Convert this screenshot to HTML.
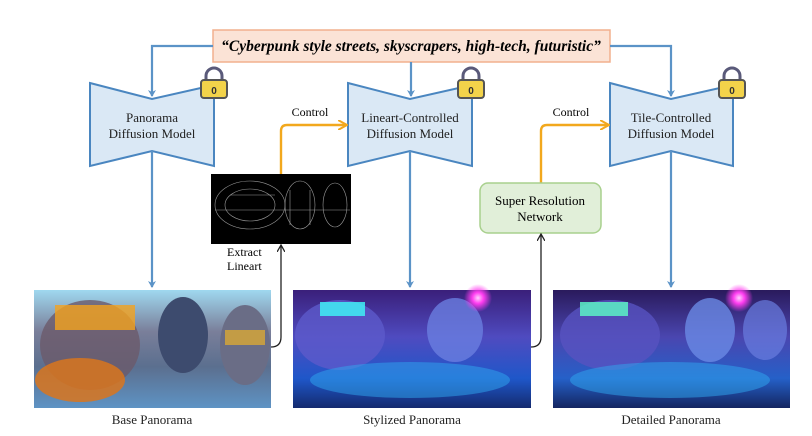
<!DOCTYPE html>
<html><head><meta charset="utf-8"><style>
body{margin:0;background:#fff;}
svg{display:block;font-family:"Liberation Serif",serif;}
</style></head><body>
<svg width="812" height="436" viewBox="0 0 812 436" xmlns="http://www.w3.org/2000/svg">
<defs>
<marker id="ab" markerWidth="8" markerHeight="8" refX="6" refY="4" orient="auto" markerUnits="userSpaceOnUse"><path d="M0,0 L7,4 L0,8 L2,4z" fill="#5b93c7"/></marker>
<marker id="ao" markerWidth="10" markerHeight="10" refX="8" refY="5" orient="auto" markerUnits="userSpaceOnUse"><path d="M0,0 L9,5 L0,10" fill="none" stroke="#f2a81d" stroke-width="2"/></marker>
<marker id="ak" markerWidth="8" markerHeight="8" refX="6" refY="4" orient="auto" markerUnits="userSpaceOnUse"><path d="M0,0 L7,4 L0,8" fill="none" stroke="#222" stroke-width="1.3"/></marker>
<linearGradient id="g1" x1="0" y1="0" x2="0" y2="1"><stop offset="0" stop-color="#9fd8ef"/><stop offset="0.35" stop-color="#7a7f9a"/><stop offset="0.65" stop-color="#5b6f8f"/><stop offset="1" stop-color="#5e93c4"/></linearGradient>
<linearGradient id="g2" x1="0" y1="0" x2="0" y2="1"><stop offset="0" stop-color="#3a1f7a"/><stop offset="0.4" stop-color="#4f4bc0"/><stop offset="0.75" stop-color="#1f57c9"/><stop offset="1" stop-color="#142a6e"/></linearGradient>
<linearGradient id="g3" x1="0" y1="0" x2="0" y2="1"><stop offset="0" stop-color="#2a1a5c"/><stop offset="0.4" stop-color="#4a46b0"/><stop offset="0.75" stop-color="#2560c8"/><stop offset="1" stop-color="#142560"/></linearGradient>
<radialGradient id="orb" cx="0.5" cy="0.5" r="0.5"><stop offset="0" stop-color="#ffd0ff"/><stop offset="0.4" stop-color="#ff3df0"/><stop offset="1" stop-color="#ff3df0" stop-opacity="0"/></radialGradient>
<g id="lock"><path d="M6,12 V7 a8,8 0 0 1 16,0 V12" fill="none" stroke="#5a5a7a" stroke-width="3"/><rect x="1" y="11" width="26" height="18" rx="3" fill="#f3d34a" stroke="#555" stroke-width="2"/><text x="14" y="25" font-family="Liberation Sans,sans-serif" font-size="10" font-weight="bold" text-anchor="middle" fill="#333">0</text></g>
</defs>

<!-- prompt -->
<rect x="213" y="30" width="397" height="32" fill="#fbe3d6" stroke="#f2b08e" stroke-width="1.5"/>
<text x="411" y="51" font-size="15.5" font-weight="bold" font-style="italic" text-anchor="middle">“Cyberpunk style streets, skyscrapers, high-tech, futuristic”</text>
<g stroke="#5b93c7" stroke-width="2.2" fill="none">
<path d="M213,46 H152 V96" marker-end="url(#ab)"/>
<path d="M411,62 V96" marker-end="url(#ab)"/>
<path d="M610,46 H671 V96" marker-end="url(#ab)"/>
</g>

<!-- funnels -->
<g fill="#dae8f5" stroke="#4a86c0" stroke-width="2">
<path d="M90,83 L152,99 L214,85 V166 L152,151 L90,166 Z"/>
<path d="M348,83 L410,99 L472,85 V166 L410,151 L348,166 Z"/>
<path d="M610,83 L671,99 L733,85 V166 L671,151 L610,166 Z"/>
</g>
<g font-size="13" text-anchor="middle" fill="#222">
<text x="152" y="122">Panorama</text><text x="152" y="138">Diffusion Model</text>
<text x="410" y="122">Lineart-Controlled</text><text x="410" y="138">Diffusion Model</text>
<text x="671" y="122">Tile-Controlled</text><text x="671" y="138">Diffusion Model</text>
</g>
<use href="#lock" x="200" y="69"/>
<use href="#lock" x="457" y="69"/>
<use href="#lock" x="718" y="69"/>

<!-- funnel to panorama arrows -->
<g stroke="#5b93c7" stroke-width="2.2" fill="none">
<path d="M152,151 V287" marker-end="url(#ab)"/>
<path d="M410,151 V287" marker-end="url(#ab)"/>
<path d="M671,151 V287" marker-end="url(#ab)"/>
</g>

<!-- lineart -->
<rect x="211" y="174" width="140" height="70" fill="#000"/>
<g stroke="#999" stroke-width="0.6" fill="none">
<ellipse cx="250" cy="205" rx="35" ry="24"/><ellipse cx="250" cy="205" rx="25" ry="16"/>
<ellipse cx="300" cy="205" rx="15" ry="24"/><ellipse cx="335" cy="205" rx="12" ry="22"/>
<path d="M215,210 H350 M230,195 H275 M290,190 V225 M310,190 V225"/>
</g>
<text x="227" y="256" font-size="12">Extract</text>
<text x="227" y="270" font-size="12">Lineart</text>
<text x="310" y="116" font-size="12" text-anchor="middle">Control</text>
<text x="571" y="116" font-size="12" text-anchor="middle">Control</text>
<g stroke="#f2a81d" stroke-width="2.4" fill="none">
<path d="M281,174 V131 q0,-6 6,-6 H346" marker-end="url(#ao)"/>
<path d="M541,183 V131 q0,-6 6,-6 H608" marker-end="url(#ao)"/>
</g>

<!-- SR box -->
<rect x="480" y="183" width="121" height="50" rx="8" fill="#e1efd9" stroke="#a8d08d" stroke-width="1.5"/>
<text x="540" y="205" font-size="13" text-anchor="middle">Super Resolution</text>
<text x="540" y="221" font-size="13" text-anchor="middle">Network</text>

<!-- black connectors -->
<g stroke="#222" stroke-width="1.3" fill="none">
<path d="M271,347 q10,0 10,-10 V246" marker-end="url(#ak)"/>
<path d="M531,347 q10,0 10,-10 V235" marker-end="url(#ak)"/>
</g>

<!-- panoramas -->
<rect x="34" y="290" width="237" height="118" fill="url(#g1)"/>
<ellipse cx="90" cy="345" rx="50" ry="45" fill="#6b5a6a" opacity="0.8"/>
<rect x="55" y="305" width="80" height="25" fill="#f4a21e" opacity="0.8"/>
<ellipse cx="80" cy="380" rx="45" ry="22" fill="#d9751d" opacity="0.85"/>
<ellipse cx="183" cy="335" rx="25" ry="38" fill="#3d4b6e"/>
<ellipse cx="245" cy="345" rx="25" ry="40" fill="#6a6d86"/>
<rect x="225" y="330" width="40" height="15" fill="#e9b02a" opacity="0.7"/>

<rect x="293" y="290" width="238" height="118" fill="url(#g2)"/>
<ellipse cx="340" cy="335" rx="45" ry="35" fill="#5c5acb" opacity="0.8"/>
<rect x="320" y="302" width="45" height="14" fill="#3ff0f5" opacity="0.85"/>
<ellipse cx="455" cy="330" rx="28" ry="32" fill="#6a7ee0" opacity="0.8"/>
<circle cx="478" cy="298" r="14" fill="url(#orb)"/>
<ellipse cx="410" cy="380" rx="100" ry="18" fill="#2fa7f0" opacity="0.5"/>

<rect x="553" y="290" width="237" height="118" fill="url(#g3)"/>
<ellipse cx="610" cy="335" rx="50" ry="35" fill="#5752c0" opacity="0.8"/>
<rect x="580" y="302" width="48" height="14" fill="#5cf2c5" opacity="0.85"/>
<ellipse cx="710" cy="330" rx="25" ry="32" fill="#6a8ae5" opacity="0.8"/>
<ellipse cx="765" cy="330" rx="22" ry="30" fill="#6a7ee0" opacity="0.7"/>
<circle cx="739" cy="298" r="14" fill="url(#orb)"/>
<ellipse cx="670" cy="380" rx="100" ry="18" fill="#2fa7f0" opacity="0.5"/>

<g font-size="13" text-anchor="middle" fill="#222">
<text x="152" y="424">Base Panorama</text>
<text x="412" y="424">Stylized Panorama</text>
<text x="671" y="424">Detailed Panorama</text>
</g>
</svg>
</body></html>
